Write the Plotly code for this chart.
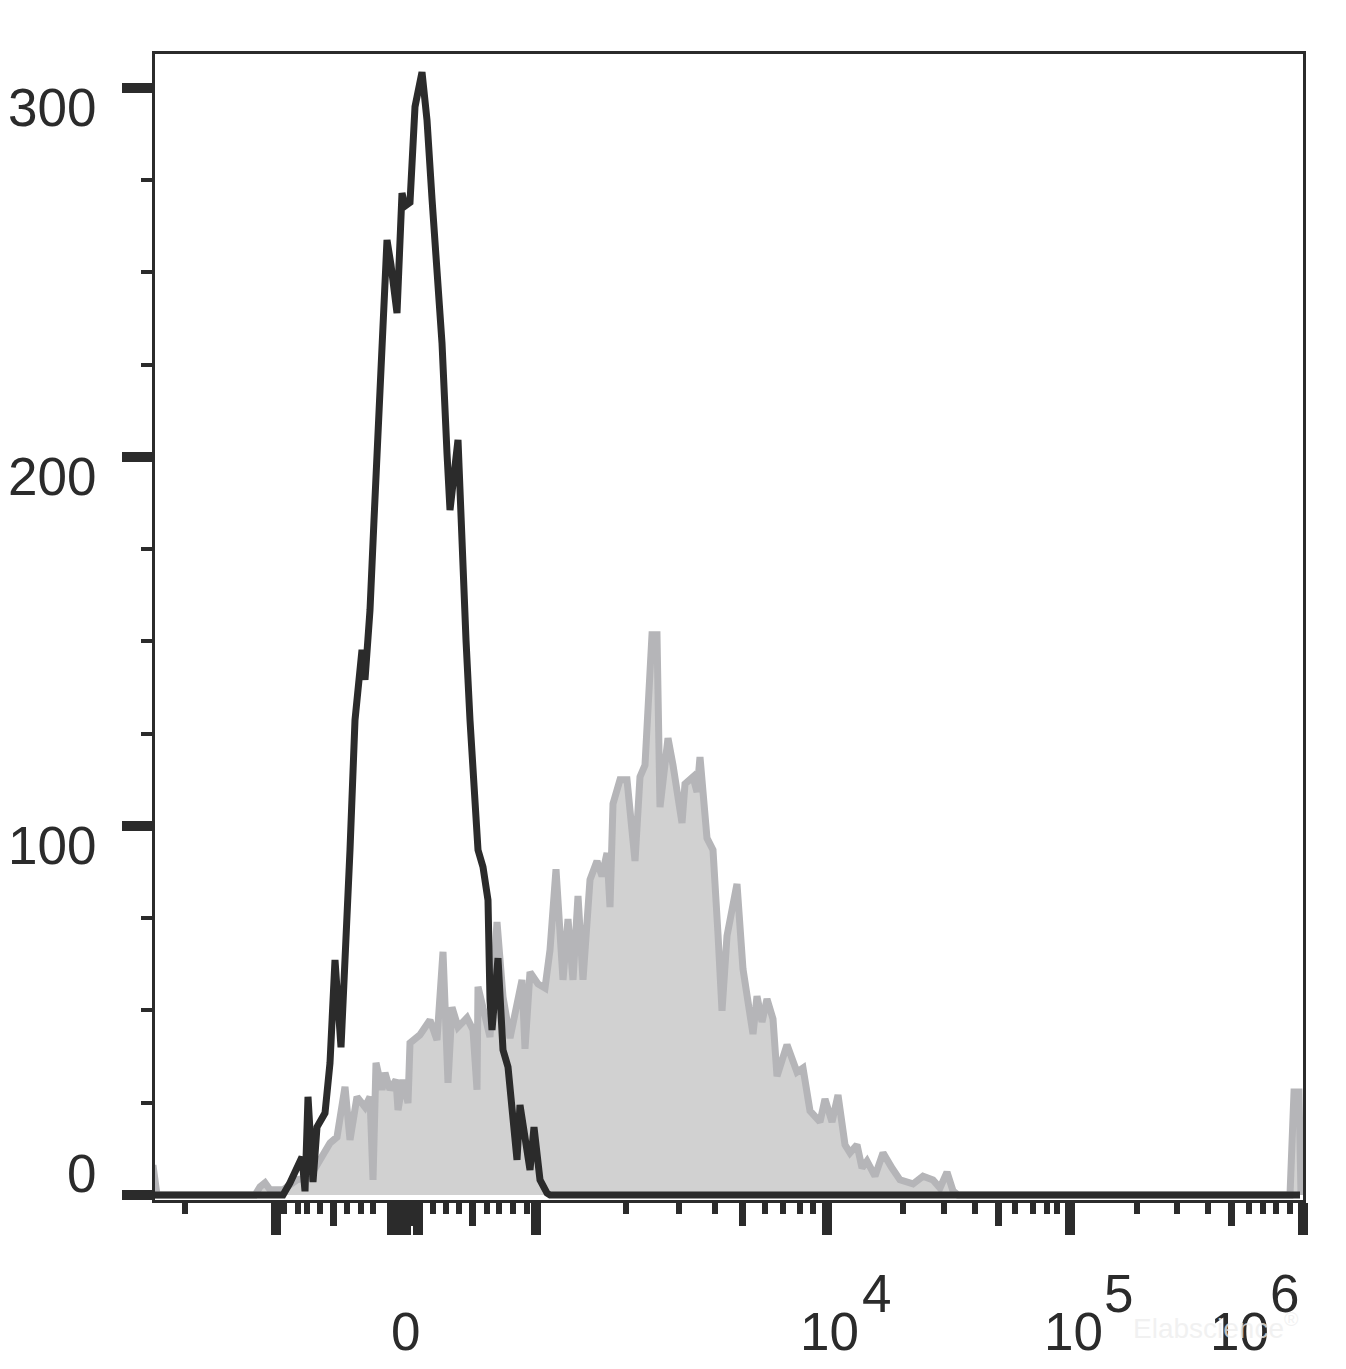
import plotly.graph_objects as go

# ---- data (x in display-channel units of the biexponential axis, y in counts) ----
black_x = [0, 130, 137, 144, 149, 152, 155, 160, 164, 172, 177, 182, 188, 197, 202, 205, 209, 212,
           217, 221, 224, 227, 231, 234, 238, 244, 249, 252, 257, 262, 269, 274, 279, 282, 289, 294,
           297, 305, 309, 313, 317, 321, 325, 330, 335, 337, 339, 345, 350, 355, 360, 364, 367, 374,
           377, 381, 387, 394, 397, 1147]
black_y = [0, 0, 3.3, 7.3, 10.3, 1.0, 26.6, 3.5, 18.4, 22.2, 35.8, 63.7, 40, 93.5, 128.7, 136.9, 147.7,
           139.6, 158.5, 182.9, 199.2, 218.2, 242.5, 258.8, 252, 239, 271.5, 268, 269, 294.9, 304.3,
           291.3, 270, 256.9, 230.9, 201, 185.6, 204.6, 172, 150.4, 128.7, 109.8, 93.5, 88.9, 79.9,
           52.8, 44.7, 64.2, 39.3, 34.7, 18.4, 9.5, 24.4, 12.2, 6.8, 18.4, 4.1, 0.5, 0, 0]

grey_x = [0, 4, 102, 107, 112, 117, 130, 144, 157, 167, 177, 184, 192, 197, 204, 212, 217, 220, 223,
          229, 232, 237, 243, 245, 250, 255, 257, 267, 277, 284, 290, 295, 299, 305, 314, 320, 324,
          325, 330, 337, 344, 350, 357, 362, 369, 372, 377, 385, 392, 397, 403, 410, 415, 420, 425,
          430, 437, 444, 449, 454, 457, 460, 467, 474, 482, 487, 492, 499, 504, 507, 515, 520, 529,
          532, 540, 544, 547, 554, 560, 565, 569, 574, 584, 590, 600, 604, 609, 614, 620, 624, 634,
          644, 650, 657, 667, 672, 679, 685, 692, 697, 704, 709, 714, 722, 730, 739, 747, 760, 770,
          780, 787, 794, 800, 805, 1137, 1141, 1146, 1148]
grey_y = [8.1, 0, 0, 2.2, 3.3, 1.4, 1.4, 4.1, 4.9, 9.5, 14.1, 15.7, 29.3, 14.9, 26.6, 23.8, 26.6, 4.1,
          35.8, 28.5, 33.1, 28.5, 31.2, 23.0, 31.2, 24.9, 41.2, 43.4, 47.4, 42.0, 65.9, 30.4, 50.9,
          45.5, 48.0, 44.7, 28.5, 56.4, 50.1, 42.8, 74.0, 53.7, 42.5, 50.1, 58.3, 39.6, 60.4, 57.2,
          56.1, 66.4, 88.3, 58.3, 74.8, 58.3, 81.0, 58.3, 85.4, 90.5, 86.4, 92.7, 78.0, 106.0, 112.5,
          112.5, 90.5, 113.3, 116.5, 151.8, 151.8, 105.1, 123.8, 116.5, 100.8, 111.4, 113.3, 109.2,
          118.7, 96.7, 93.5, 70.7, 49.9, 70.2, 84.3, 61.2, 43.6, 53.9, 46.9, 53.1, 47.7, 32.2, 40.7,
          33.3, 34.4, 22.8, 19.8, 26.0, 19.8, 27.1, 13.6, 11.4, 13.6, 7.3, 9.2, 5.1, 11.4, 7.3, 4.1,
          3.0, 5.1, 4.1, 1.9, 6.2, 1.1, 0, 0, 27.9, 27.9, 0]

# axis ticks (display-channel positions)
x_major_ticks = [123, 239, 244, 249, 253, 265, 383, 674, 917, 1150]
x_mid_ticks = [180, 259, 319, 589, 845, 1078]
x_small_ticks = [32, 131, 145, 154, 167, 194, 208, 220, 280, 293, 306, 334, 346, 360, 374, 473, 526,
                 562, 612, 630, 647, 660, 750, 791, 822, 862, 880, 894, 904, 984, 1024, 1055, 1096,
                 1110, 1123, 1137]
x_label_vals = [252, 674, 917, 1150]
x_label_base = ["0", "10", "10", "10"]
x_label_exp = ["", "4", "5", "6"]

y_major_ticks = [0, 100, 200, 300]
y_minor_ticks = [25, 50, 75, 125, 150, 175, 225, 250, 275]
y_labels = ["0", "100", "200", "300"]

INK = "#2b2b2b"
FONT = "Liberation Sans, Arial, sans-serif"

fig = go.Figure()
fig.add_trace(go.Scatter(x=grey_x, y=grey_y, mode="lines", fill="tozeroy",
                         fillcolor="#d1d1d1", line=dict(color="#b5b5b8", width=7),
                         showlegend=False, hoverinfo="skip"))
fig.add_trace(go.Scatter(x=black_x, y=black_y, mode="lines",
                         line=dict(color=INK, width=7), showlegend=False, hoverinfo="skip"))
# helper trace so the overlay axis carrying the smallest ticks is drawn
fig.add_trace(go.Scatter(x=[None], y=[None], xaxis="x2", yaxis="y", showlegend=False,
                         hoverinfo="skip"))

xr = [2, 1150]
yr = [-1.36, 309.2]

fig.update_layout(
    width=1346, height=1369,
    margin=dict(l=155, r=43, t=54, b=169, pad=0),
    paper_bgcolor="white", plot_bgcolor="white",
    xaxis=dict(range=xr, tickmode="array", tickvals=x_major_ticks, ticks="outside",
               ticklen=32, tickwidth=10, tickcolor=INK, showticklabels=False,
               showline=True, linewidth=3, linecolor=INK, mirror=True,
               showgrid=False, zeroline=False,
               minor=dict(tickmode="array", tickvals=x_mid_ticks, ticks="outside",
                          ticklen=23, tickwidth=7, tickcolor=INK, showgrid=False)),
    xaxis2=dict(range=xr, overlaying="x", anchor="y", side="bottom", tickmode="array",
                tickvals=x_small_ticks, ticks="outside", ticklen=13, tickwidth=6,
                tickcolor=INK, showticklabels=False, showline=False, showgrid=False,
                zeroline=False),
    yaxis=dict(range=yr, tickmode="array", tickvals=y_major_ticks, ticks="outside",
               ticklen=30, tickwidth=10, tickcolor=INK, showticklabels=False,
               showline=True, linewidth=3, linecolor=INK, mirror=True,
               showgrid=False, zeroline=False,
               minor=dict(tickmode="array", tickvals=y_minor_ticks, ticks="outside",
                          ticklen=11, tickwidth=4, tickcolor=INK, showgrid=False)),
)

annotations = []
# y tick labels
for v, t in zip(y_major_ticks, y_labels):
    annotations.append(dict(x=0, xref="paper", y=v, yref="y", text=t, showarrow=False,
                            xanchor="right", yanchor="middle", xshift=-57,
                            yshift=21 if v == 0 else -20,
                            font=dict(family=FONT, size=53, color=INK)))
# x tick labels: base and full-size raised exponent
base_shift = [0, 2, 3, -64]
exp_shift = [0, 49, 48, -19]
for v, b, e, bs, es in zip(x_label_vals, x_label_base, x_label_exp, base_shift, exp_shift):
    annotations.append(dict(x=v, xref="x", y=0, yref="paper", text=b, showarrow=False,
                            xanchor="center", yanchor="middle", xshift=bs, yshift=-131,
                            font=dict(family=FONT, size=53, color=INK)))
    if e:
        annotations.append(dict(x=v, xref="x", y=0, yref="paper", text=e, showarrow=False,
                                xanchor="center", yanchor="middle", xshift=es, yshift=-93,
                                font=dict(family=FONT, size=53, color=INK)))
# faint watermark
annotations.append(dict(x=1, xref="paper", y=0, yref="paper", text="Elabscience<sup>®</sup>",
                        showarrow=False, xanchor="right", yanchor="middle", xshift=-2,
                        yshift=-126, font=dict(family=FONT, size=28,
                                               color="rgba(238,238,238,0.8)")))
fig.update_layout(annotations=annotations)

fig.write_html("out.html", config={"displayModeBar": False},
               post_script="document.body.style.margin='0';")
